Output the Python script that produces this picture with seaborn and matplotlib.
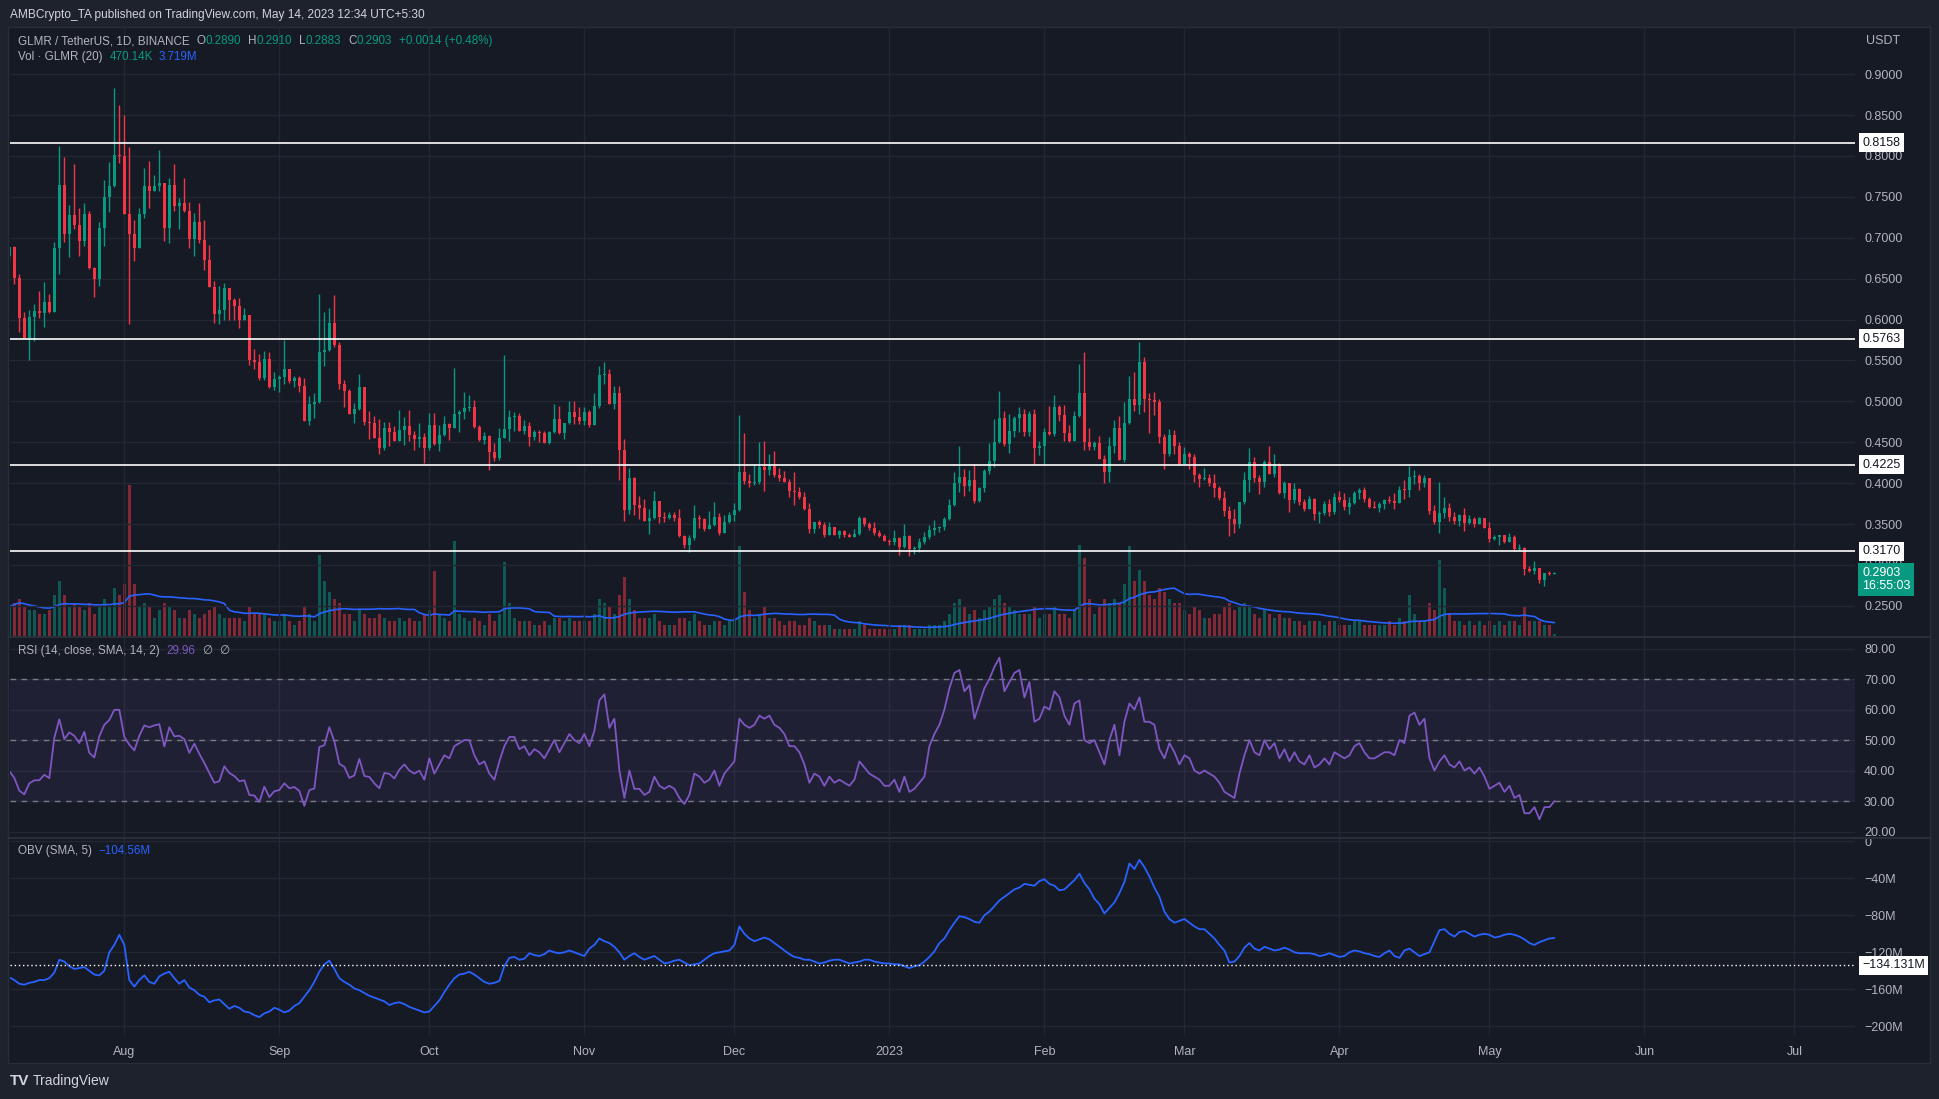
import numpy as np
import pandas as pd
import matplotlib.pyplot as plt
import matplotlib.dates as mdates
import matplotlib.transforms as mtransforms
from matplotlib.lines import Line2D
from matplotlib.patches import Rectangle
import seaborn as sns

# GLMR / USDT daily candles, first candle 2022-07-09
start_date = "2022-07-09"
first_open = 0.678
closes = [
    0.689, 0.651, 0.602, 0.577, 0.603, 0.610, 0.608, 0.621, 0.609, 0.688,
    0.764, 0.705, 0.728, 0.716, 0.696, 0.729, 0.663, 0.650, 0.712, 0.750,
    0.763, 0.801, 0.800, 0.729, 0.705, 0.688, 0.729, 0.763, 0.757, 0.763,
    0.767, 0.712, 0.764, 0.739, 0.742, 0.733, 0.698, 0.719, 0.697, 0.673,
    0.640, 0.607, 0.612, 0.639, 0.624, 0.616, 0.600, 0.605, 0.551, 0.548,
    0.528, 0.552, 0.518, 0.527, 0.530, 0.539, 0.525, 0.529, 0.519, 0.476,
    0.497, 0.499, 0.560, 0.563, 0.596, 0.569, 0.521, 0.513, 0.485, 0.490,
    0.517, 0.475, 0.473, 0.455, 0.443, 0.467, 0.462, 0.451, 0.465, 0.470,
    0.459, 0.454, 0.456, 0.443, 0.471, 0.448, 0.459, 0.472, 0.467, 0.484,
    0.487, 0.492, 0.493, 0.469, 0.453, 0.458, 0.438, 0.431, 0.455, 0.466,
    0.481, 0.482, 0.464, 0.470, 0.456, 0.462, 0.461, 0.449, 0.462, 0.478,
    0.461, 0.473, 0.487, 0.481, 0.476, 0.487, 0.471, 0.494, 0.532, 0.533,
    0.497, 0.510, 0.440, 0.367, 0.406, 0.373, 0.370, 0.354, 0.357, 0.378,
    0.359, 0.357, 0.361, 0.357, 0.335, 0.324, 0.333, 0.357, 0.356, 0.344,
    0.349, 0.359, 0.339, 0.352, 0.361, 0.367, 0.414, 0.403, 0.400, 0.401,
    0.420, 0.416, 0.421, 0.410, 0.406, 0.401, 0.390, 0.389, 0.383, 0.368,
    0.344, 0.352, 0.349, 0.337, 0.346, 0.337, 0.341, 0.337, 0.334, 0.338,
    0.357, 0.350, 0.345, 0.339, 0.335, 0.329, 0.328, 0.333, 0.322, 0.335,
    0.319, 0.321, 0.328, 0.334, 0.343, 0.345, 0.346, 0.356, 0.373, 0.400,
    0.407, 0.396, 0.404, 0.378, 0.394, 0.415, 0.427, 0.450, 0.480, 0.448,
    0.464, 0.480, 0.485, 0.462, 0.485, 0.443, 0.445, 0.462, 0.460, 0.493,
    0.483, 0.461, 0.451, 0.482, 0.510, 0.450, 0.444, 0.449, 0.430, 0.414,
    0.445, 0.467, 0.428, 0.474, 0.503, 0.496, 0.548, 0.503, 0.502, 0.499,
    0.456, 0.436, 0.459, 0.445, 0.423, 0.436, 0.432, 0.410, 0.405, 0.406,
    0.400, 0.394, 0.382, 0.366, 0.356, 0.350, 0.377, 0.404, 0.426, 0.406,
    0.401, 0.426, 0.411, 0.423, 0.388, 0.400, 0.379, 0.393, 0.377, 0.368,
    0.381, 0.362, 0.364, 0.374, 0.365, 0.383, 0.379, 0.371, 0.376, 0.388,
    0.392, 0.381, 0.371, 0.370, 0.374, 0.379, 0.378, 0.376, 0.392, 0.391,
    0.408, 0.409, 0.400, 0.406, 0.366, 0.352, 0.363, 0.370, 0.359, 0.354,
    0.361, 0.351, 0.356, 0.350, 0.357, 0.345, 0.332, 0.334, 0.337, 0.328,
    0.334, 0.319, 0.321, 0.295, 0.293, 0.296, 0.282, 0.290, 0.289, 0.2903,
]
highs = [
    0.690, 0.690, 0.656, 0.609, 0.612, 0.619, 0.635, 0.646, 0.631, 0.695,
    0.812, 0.799, 0.740, 0.790, 0.736, 0.742, 0.733, 0.664, 0.719, 0.771,
    0.793, 0.883, 0.862, 0.850, 0.811, 0.722, 0.736, 0.785, 0.794, 0.777,
    0.807, 0.767, 0.773, 0.790, 0.749, 0.773, 0.744, 0.730, 0.742, 0.722,
    0.691, 0.647, 0.641, 0.645, 0.639, 0.626, 0.626, 0.614, 0.602, 0.564,
    0.558, 0.561, 0.560, 0.536, 0.532, 0.575, 0.538, 0.531, 0.531, 0.528,
    0.506, 0.510, 0.631, 0.609, 0.614, 0.630, 0.572, 0.526, 0.515, 0.498,
    0.534, 0.517, 0.488, 0.482, 0.478, 0.475, 0.475, 0.470, 0.489, 0.481,
    0.489, 0.464, 0.473, 0.461, 0.486, 0.486, 0.471, 0.482, 0.473, 0.541,
    0.489, 0.511, 0.508, 0.502, 0.471, 0.462, 0.459, 0.449, 0.467, 0.557,
    0.489, 0.487, 0.486, 0.477, 0.475, 0.465, 0.465, 0.464, 0.464, 0.497,
    0.494, 0.474, 0.500, 0.500, 0.493, 0.493, 0.489, 0.510, 0.543, 0.548,
    0.539, 0.519, 0.519, 0.454, 0.418, 0.407, 0.384, 0.380, 0.368, 0.390,
    0.378, 0.365, 0.365, 0.365, 0.368, 0.336, 0.336, 0.373, 0.361, 0.357,
    0.366, 0.377, 0.364, 0.361, 0.365, 0.376, 0.483, 0.461, 0.411, 0.423,
    0.450, 0.451, 0.436, 0.439, 0.418, 0.415, 0.405, 0.414, 0.395, 0.389,
    0.376, 0.352, 0.355, 0.352, 0.352, 0.345, 0.343, 0.343, 0.339, 0.344,
    0.360, 0.359, 0.352, 0.352, 0.343, 0.338, 0.332, 0.343, 0.334, 0.350,
    0.337, 0.323, 0.333, 0.340, 0.349, 0.355, 0.348, 0.359, 0.381, 0.414,
    0.445, 0.417, 0.416, 0.423, 0.395, 0.417, 0.449, 0.478, 0.513, 0.488,
    0.485, 0.482, 0.493, 0.491, 0.488, 0.491, 0.451, 0.467, 0.494, 0.508,
    0.496, 0.496, 0.471, 0.488, 0.546, 0.560, 0.467, 0.451, 0.458, 0.434,
    0.456, 0.477, 0.482, 0.499, 0.531, 0.536, 0.573, 0.554, 0.510, 0.511,
    0.503, 0.460, 0.466, 0.465, 0.450, 0.444, 0.438, 0.436, 0.412, 0.418,
    0.411, 0.411, 0.396, 0.390, 0.372, 0.368, 0.377, 0.414, 0.443, 0.432,
    0.410, 0.428, 0.445, 0.436, 0.425, 0.403, 0.400, 0.400, 0.394, 0.381,
    0.384, 0.382, 0.366, 0.378, 0.381, 0.388, 0.390, 0.388, 0.383, 0.390,
    0.394, 0.395, 0.383, 0.378, 0.377, 0.381, 0.384, 0.388, 0.396, 0.404,
    0.421, 0.416, 0.411, 0.410, 0.406, 0.373, 0.401, 0.383, 0.376, 0.365,
    0.362, 0.370, 0.361, 0.358, 0.359, 0.357, 0.352, 0.337, 0.337, 0.337,
    0.339, 0.337, 0.326, 0.322, 0.299, 0.305, 0.296, 0.290, 0.292, 0.2910,
]
lows = [
    0.672, 0.643, 0.585, 0.577, 0.551, 0.574, 0.602, 0.591, 0.608, 0.610,
    0.656, 0.695, 0.676, 0.711, 0.678, 0.690, 0.662, 0.627, 0.641, 0.690,
    0.731, 0.762, 0.791, 0.729, 0.595, 0.671, 0.688, 0.724, 0.736, 0.757,
    0.757, 0.696, 0.694, 0.733, 0.711, 0.731, 0.687, 0.678, 0.694, 0.661,
    0.640, 0.596, 0.595, 0.599, 0.600, 0.599, 0.590, 0.599, 0.545, 0.539,
    0.526, 0.526, 0.516, 0.514, 0.512, 0.521, 0.522, 0.517, 0.512, 0.476,
    0.471, 0.480, 0.498, 0.543, 0.562, 0.566, 0.515, 0.493, 0.484, 0.473,
    0.489, 0.471, 0.454, 0.455, 0.436, 0.440, 0.445, 0.451, 0.451, 0.447,
    0.451, 0.440, 0.444, 0.425, 0.440, 0.447, 0.439, 0.457, 0.453, 0.467,
    0.462, 0.478, 0.488, 0.467, 0.451, 0.448, 0.416, 0.427, 0.428, 0.455,
    0.451, 0.464, 0.464, 0.460, 0.445, 0.453, 0.450, 0.449, 0.448, 0.461,
    0.460, 0.454, 0.472, 0.472, 0.472, 0.471, 0.469, 0.472, 0.492, 0.521,
    0.497, 0.491, 0.404, 0.354, 0.362, 0.361, 0.356, 0.354, 0.338, 0.356,
    0.351, 0.352, 0.356, 0.354, 0.334, 0.321, 0.316, 0.330, 0.345, 0.342,
    0.344, 0.347, 0.337, 0.339, 0.351, 0.354, 0.366, 0.399, 0.395, 0.398,
    0.399, 0.390, 0.410, 0.408, 0.403, 0.401, 0.383, 0.373, 0.381, 0.367,
    0.339, 0.339, 0.345, 0.334, 0.338, 0.337, 0.333, 0.334, 0.334, 0.334,
    0.337, 0.348, 0.343, 0.337, 0.334, 0.329, 0.324, 0.324, 0.312, 0.321,
    0.311, 0.313, 0.316, 0.325, 0.332, 0.336, 0.340, 0.343, 0.355, 0.372,
    0.389, 0.384, 0.390, 0.376, 0.377, 0.389, 0.411, 0.420, 0.449, 0.445,
    0.437, 0.456, 0.462, 0.458, 0.458, 0.423, 0.434, 0.423, 0.459, 0.458,
    0.476, 0.451, 0.450, 0.451, 0.481, 0.440, 0.440, 0.440, 0.430, 0.400,
    0.401, 0.437, 0.428, 0.426, 0.472, 0.488, 0.484, 0.487, 0.461, 0.483,
    0.449, 0.417, 0.433, 0.436, 0.422, 0.423, 0.417, 0.401, 0.395, 0.404,
    0.396, 0.383, 0.379, 0.360, 0.335, 0.339, 0.345, 0.375, 0.389, 0.401,
    0.387, 0.395, 0.411, 0.408, 0.387, 0.382, 0.365, 0.376, 0.373, 0.366,
    0.368, 0.355, 0.351, 0.361, 0.360, 0.362, 0.377, 0.367, 0.362, 0.374,
    0.381, 0.377, 0.370, 0.370, 0.365, 0.368, 0.376, 0.368, 0.376, 0.381,
    0.383, 0.399, 0.392, 0.395, 0.362, 0.350, 0.339, 0.357, 0.354, 0.350,
    0.348, 0.341, 0.350, 0.346, 0.350, 0.345, 0.328, 0.331, 0.324, 0.327,
    0.328, 0.317, 0.318, 0.288, 0.291, 0.289, 0.278, 0.274, 0.288, 0.2883,
]
# volume in millions of GLMR
volumes = [
    8, 9, 10, 8, 7, 7, 6, 6, 7, 11,
    15, 11, 8, 9, 8, 7, 9, 6, 8, 10,
    8, 13, 11, 14, 41, 14, 8, 9, 8, 5,
    7, 9, 8, 7, 5, 5, 7, 6, 5, 6,
    7, 8, 6, 5, 5, 5, 5, 4, 8, 6,
    6, 6, 5, 4, 4, 6, 4, 3, 4, 8,
    6, 4, 22, 15, 12, 10, 9, 6, 6, 4,
    7, 6, 5, 5, 6, 5, 4, 4, 5, 4,
    5, 4, 4, 6, 7, 17.6, 6, 5, 4, 25.7,
    6, 5, 4, 5, 4, 3, 6, 4, 6, 20,
    9, 5, 4, 4, 4, 3, 3, 4, 3, 5,
    5, 4, 5, 4, 4, 4, 4, 6, 10, 9,
    8, 6, 11, 16, 10, 7, 5, 5, 5, 6,
    4, 3, 3, 3, 5, 5, 4, 6, 4, 3,
    3, 4, 4, 3, 4, 5, 24.4, 12, 7, 5,
    6, 8, 5, 5, 4, 3, 4, 4, 3, 3,
    5, 4, 3, 3, 3, 2, 2, 2, 2, 2,
    4, 3, 2, 2, 2, 2, 2, 2, 3, 3,
    3, 2, 2, 2, 3, 3, 3, 4, 6, 9,
    10, 8, 6, 7, 5, 7, 8, 10, 11, 9,
    8, 7, 6, 6, 6, 8, 5, 6, 6, 8,
    6, 6, 5, 7, 24.7, 21, 10, 6, 8, 10,
    9, 10, 9, 14, 24.4, 15, 18, 15, 11, 10,
    13, 12, 10, 9, 9, 7, 6, 8, 7, 5,
    5, 6, 6, 8, 9, 7, 8, 9, 8, 6,
    5, 7, 6, 5, 6, 5, 5, 4, 4, 3,
    4, 4, 4, 3, 4, 4, 3, 3, 3, 4,
    4, 3, 3, 3, 3, 3, 4, 3, 5, 4,
    11, 6, 4, 4, 9, 7, 20.6, 13, 6, 4,
    4, 3, 4, 3, 4, 3, 4, 3, 4, 3,
    4, 4, 3, 8, 4, 4, 4, 3, 3, 0.47,
]
rsi = [
    39.8, 37.6, 33.4, 32.2, 35.8, 36.8, 36.8, 38.6, 37.5, 50.7,
    56.8, 50.3, 52.5, 51.4, 49.0, 52.7, 45.8, 44.3, 51.2, 55.0,
    56.6, 59.9, 59.9, 51.0, 48.5, 46.6, 51.4, 54.8, 54.2, 54.8,
    55.2, 47.9, 54.2, 51.2, 51.4, 50.3, 45.8, 48.8, 45.5, 42.5,
    39.2, 36.0, 36.5, 41.4, 39.2, 38.2, 36.5, 36.8, 32.0, 31.8,
    29.7, 34.7, 31.3, 33.2, 33.6, 35.8, 34.2, 34.6, 33.3, 28.4,
    33.6, 34.1, 47.7, 48.3, 54.2, 49.6, 42.2, 41.2, 37.6, 38.4,
    43.8, 38.2, 37.9, 35.8, 34.2, 39.2, 38.9, 37.4, 40.3, 42.0,
    40, 39, 40, 37, 44, 39, 42, 45, 44, 48,
    49, 50, 50, 45, 42, 43, 39, 37, 43, 48,
    51, 51, 47, 48, 45, 47, 46, 44, 47, 50,
    46, 49, 52, 50, 49, 52, 48, 53, 63, 65,
    54, 57, 40, 31, 40, 34, 34, 32, 33, 38,
    35, 34, 35, 34, 31, 29, 32, 39, 38, 36,
    37, 40, 35, 39, 41, 43, 57, 55, 54, 55,
    58, 57, 58, 55, 54, 52, 48, 48, 46, 42,
    36, 39, 38, 35, 38, 36, 37, 36, 35, 37,
    43, 41, 39, 38, 37, 35, 35, 37, 33, 38,
    33, 34, 36, 38, 48, 52, 55, 60, 67, 72,
    73, 66, 68, 57, 62, 67, 70, 74, 77, 66,
    69, 72, 73, 64, 69, 56, 57, 61, 60, 66,
    64, 58, 55, 62, 63, 50, 49, 50, 46, 42,
    50, 55, 45, 56, 62, 60, 64, 56, 56, 55,
    47, 44, 49, 46, 42, 45, 44, 40, 39, 40,
    39, 38, 36, 33, 32, 31, 39, 45, 50, 46,
    45, 50, 47, 49, 44, 47, 43, 46, 43, 42,
    45, 41, 42, 44, 42, 46, 45, 44, 45, 48,
    49, 46, 44, 44, 45, 46, 46, 45, 50, 49,
    58, 59, 55, 57, 44, 40, 43, 45, 42, 41,
    43, 40, 41, 39, 41, 38, 34, 35, 36, 33,
    35, 31, 32, 26, 26, 28, 24, 28, 28, 29.96,
]
# OBV (SMA 5) in millions
obv = [
    -147, -150, -154, -155, -153, -152, -150, -150, -148, -142,
    -128, -130, -135, -138, -137, -136, -140, -144, -145, -140,
    -120, -112, -101, -112, -150, -157, -150, -145, -152, -154,
    -146, -143, -141, -148, -154, -150, -158, -161, -166, -168,
    -174, -172, -171, -176, -181, -178, -180, -184, -185, -188,
    -190, -186, -184, -180, -182, -185, -183, -178, -175, -168,
    -161, -152, -141, -133, -129, -138, -148, -152, -155, -159,
    -161, -164, -167, -169, -171, -173, -177, -175, -174, -176,
    -179, -181, -183, -185, -184, -178, -172, -163, -155, -148,
    -144, -143, -141, -144, -148, -152, -154, -153, -151, -135,
    -126, -125, -128, -127, -121, -123, -124, -122, -118, -120,
    -121, -120, -118, -120, -122, -124, -116, -112, -105, -108,
    -110, -114, -120, -128, -124, -121, -125, -128, -126, -124,
    -128, -132, -131, -129, -128, -131, -134, -133, -132, -128,
    -124, -121, -120, -119, -118, -112, -92, -100, -105, -108,
    -106, -104, -106, -110, -114, -118, -122, -125, -126, -128,
    -128, -130, -132, -131, -129, -128, -128, -130, -132, -131,
    -130, -128, -128, -130, -131, -132, -132, -133, -133, -135,
    -137, -135, -134, -130, -125, -119, -110, -105, -96, -88,
    -81, -82, -84, -87, -88, -80, -76, -70, -64, -60,
    -56, -52, -50, -46, -47, -48, -43, -41, -46, -48,
    -53, -52, -47, -42, -35, -45, -52, -62, -68, -78,
    -72, -66, -56, -44, -24, -30, -20, -28, -38, -50,
    -60, -76, -84, -88, -86, -84, -88, -92, -95, -95,
    -100, -105, -112, -118, -131, -130, -124, -115, -110, -116,
    -118, -114, -116, -118, -117, -115, -117, -120, -121, -121,
    -121, -122, -124, -123, -121, -123, -125, -124, -120, -118,
    -119, -121, -122, -124, -125, -121, -118, -124, -126, -118,
    -116, -120, -124, -122, -120, -108, -96, -95, -100, -103,
    -98, -97, -100, -103, -101, -100, -101, -104, -103, -101,
    -100, -101, -103, -106, -110, -112, -109, -107, -105, -104.56,
]
level_prices = [0.8158, 0.5763, 0.4225, 0.3170]
price_ticks = [0.25, 0.30, 0.35, 0.40, 0.45, 0.50, 0.55, 0.60, 0.65, 0.70, 0.75, 0.80, 0.85, 0.90]
rsi_ticks = [20, 30, 40, 50, 60, 70, 80]
obv_ticks = [0, -40, -80, -120, -160, -200]
obv_level = -134.131
last_price = 0.2903
month_starts = ["2022-08-01", "2022-09-01", "2022-10-01", "2022-11-01", "2022-12-01", "2023-01-01",
                "2023-02-01", "2023-03-01", "2023-04-01", "2023-05-01", "2023-06-01", "2023-07-01"]
month_labels = ["Aug", "Sep", "Oct", "Nov", "Dec", "2023", "Feb", "Mar", "Apr", "May", "Jun", "Jul"]

sns.set_theme(style="dark")
plt.rcParams["font.family"] = ["Liberation Sans", "DejaVu Sans"]

BG = "#1e222d"
PANE = "#161a25"
GRID = "#232733"
SEP = "#2a2e39"
TXT = "#b2b5be"
UP = "#089981"
DOWN = "#f23645"
BLUE = "#2962ff"
PURPLE = "#7e57c2"

W, H = 1940, 1099
fig = plt.figure(figsize=(W / 100, H / 100), dpi=100, facecolor=BG)


def box(l, t, r, b):
    return [l / W, 1 - b / H, (r - l) / W, (b - t) / H]


fig.patches.append(Rectangle((8 / W, 1 - 1063 / H), (1930 - 8) / W, (1063 - 27) / H,
                             transform=fig.transFigure, facecolor=PANE, edgecolor=SEP,
                             lw=1, zorder=-5))

dates = pd.date_range(start_date, periods=len(closes), freq="D")
df = pd.DataFrame({"date": dates, "close": closes, "high": highs, "low": lows,
                   "volume": volumes, "rsi": rsi, "obv": obv})
df["open"] = [first_open] + closes[:-1]
df["vol_ma"] = df.volume.rolling(20, min_periods=1).mean()
xn = mdates.date2num(df.date)
x0 = mdates.date2num(pd.Timestamp(start_date))
xlim = (x0 + 0.14, x0 + 369.1)
o = df.open.values
c = df.close.values
hi = np.maximum(df.high.values, np.maximum(o, c))
lo = np.minimum(df.low.values, np.minimum(o, c))
cols = np.where(c >= o, UP, DOWN)
month_x = mdates.date2num(pd.to_datetime(month_starts))

ax_p = fig.add_axes(box(10, 27, 1855, 636))
ax_v = ax_p.twinx()
ax_v.set_zorder(-1)
ax_r = fig.add_axes(box(10, 637, 1855, 837))
ax_o = fig.add_axes(box(10, 838, 1855, 1035))

for a in (ax_p, ax_v, ax_r, ax_o):
    a.patch.set_visible(False)
    for s in a.spines.values():
        s.set_visible(False)
    a.set_xlim(*xlim)

# volume (behind candles)
ax_v.bar(xn, df.volume, width=0.62, color=cols, alpha=0.5, lw=0)
sns.lineplot(x=xn, y=df.vol_ma.values, ax=ax_v, color=BLUE, linewidth=1.2)
ax_v.set_ylim(0, 165)
ax_v.set_yticks([])
ax_v.set_ylabel("")

# candles
ax_p.vlines(xn, lo, hi, colors=cols, lw=1, zorder=3)
ax_p.bar(xn, np.maximum(np.abs(c - o), 0.0012), bottom=np.minimum(o, c), width=0.68,
         color=cols, lw=0, zorder=4)
ax_p.set_ylim(0.2131, 0.9576)
ax_p.yaxis.tick_right()
ax_p.set_yticks(price_ticks)
ax_p.set_yticklabels([f"{v:.4f}" for v in price_ticks])
ax_p.set_xticks(month_x)
ax_p.tick_params(axis="x", labelbottom=False, length=0)
ax_p.tick_params(axis="y", length=0, pad=6.5, labelsize=9, labelcolor=TXT)
ax_p.grid(True, color=GRID, lw=1)
ax_p.set_axisbelow(True)

trans_p = mtransforms.blended_transform_factory(ax_p.transAxes, ax_p.transData)
for lv in level_prices:
    ax_p.axhline(lv, color="white", lw=1.2, zorder=5)
    ax_p.text(1.0038, lv, f"{lv:.4f}", transform=trans_p, fontsize=9, color="#131722",
              va="center", ha="left", clip_on=False, zorder=10,
              bbox=dict(boxstyle="square,pad=0.28", fc="white", ec="none"))
ax_p.text(1.0038, 0.2822, f"{last_price:.4f}\n16:55:03", transform=trans_p, fontsize=9,
          color="white", va="center", ha="left", clip_on=False, zorder=11, linespacing=1.1,
          bbox=dict(boxstyle="square,pad=0.3", fc=UP, ec="none"))

# RSI
ax_r.axhspan(30, 70, color=PURPLE, alpha=0.1, lw=0)
for lv in (70, 50, 30):
    ax_r.axhline(lv, color="#787b86", lw=1, ls=(0, (4, 4)), zorder=2)
sns.lineplot(x=xn, y=df.rsi.values, ax=ax_r, color=PURPLE, linewidth=1.3)
ax_r.set_ylim(18.2, 83.8)
ax_r.yaxis.tick_right()
ax_r.set_yticks(rsi_ticks)
ax_r.set_yticklabels([f"{v:.2f}" for v in rsi_ticks])
ax_r.set_xticks(month_x)
ax_r.tick_params(axis="x", labelbottom=False, length=0)
ax_r.tick_params(axis="y", length=0, pad=6.5, labelsize=9, labelcolor=TXT)
ax_r.grid(True, color=GRID, lw=1)
ax_r.set_axisbelow(True)
ax_r.set_ylabel("")

# OBV
sns.lineplot(x=xn, y=df.obv.values, ax=ax_o, color=BLUE, linewidth=1.3)
ax_o.axhline(obv_level, color="white", lw=1, ls=(0, (1, 2)), zorder=3)
ax_o.set_ylim(-209.4, 3.6)
ax_o.yaxis.tick_right()
ax_o.set_yticks(obv_ticks)
ax_o.set_yticklabels(["0" if v == 0 else f"\u2212{abs(v)}M" for v in obv_ticks])
ax_o.set_xticks(month_x)
ax_o.set_xticklabels(month_labels)
ax_o.tick_params(axis="x", length=0, pad=8, labelsize=9, labelcolor=TXT)
ax_o.tick_params(axis="y", length=0, pad=6.5, labelsize=9, labelcolor=TXT)
ax_o.grid(True, color=GRID, lw=1)
ax_o.set_axisbelow(True)
ax_o.set_ylabel("")
trans_o = mtransforms.blended_transform_factory(ax_o.transAxes, ax_o.transData)
ax_o.text(1.0038, obv_level, "\u2212134.131M", transform=trans_o, fontsize=9, color="#131722",
          va="center", ha="left", clip_on=False, zorder=10,
          bbox=dict(boxstyle="square,pad=0.28", fc="white", ec="none"))

# panel separators
for yy in (636.5, 837.5):
    fig.add_artist(Line2D([8 / W, 1930 / W], [1 - yy / H, 1 - yy / H], color=SEP, lw=1.5))

# legend-style text rows
renderer = fig.canvas.get_renderer()


def chain(x_px, y_px, parts, size=8.4):
    x = x_px
    for s, col, gap in parts:
        x += gap
        t = fig.text(x / W, 1 - y_px / H, s, color=col, fontsize=size, va="center", ha="left")
        x = t.get_window_extent(renderer).x1


fig.text(10 / W, 1 - 15 / H, "AMBCrypto_TA published on TradingView.com, May 14, 2023 12:34 UTC+5:30",
         color="#d1d4dc", fontsize=8.6, va="center", ha="left")
chain(18, 41, [("GLMR / TetherUS, 1D, BINANCE", TXT, 0), ("O", TXT, 7), ("0.2890", UP, 0),
               ("H", TXT, 7), ("0.2910", UP, 0), ("L", TXT, 7), ("0.2883", UP, 0),
               ("C", TXT, 7), ("0.2903", UP, 0), ("+0.0014 (+0.48%)", UP, 7)])
chain(18, 57, [("Vol \u00b7 GLMR (20)", TXT, 0), ("470.14K", UP, 7), ("3.719M", BLUE, 6)])
chain(18, 651, [("RSI (14, close, SMA, 14, 2)", TXT, 0), ("29.96", PURPLE, 7),
                ("\u2205", TXT, 7), ("\u2205", TXT, 7)])
chain(18, 851, [("OBV (SMA, 5)", TXT, 0), ("\u2212104.56M", BLUE, 7)])
fig.text(1866 / W, 1 - 41 / H, "USDT", color=TXT, fontsize=9, va="center", ha="left")

# footer
fig.text(10 / W, 1 - 1081 / H, "TV", color="#d1d4dc", fontsize=11, fontweight="bold",
         va="center", ha="left")
fig.text(33 / W, 1 - 1081 / H, "TradingView", color="#d1d4dc", fontsize=10, va="center", ha="left")

fig.savefig("out.png", dpi=100, facecolor=BG)
